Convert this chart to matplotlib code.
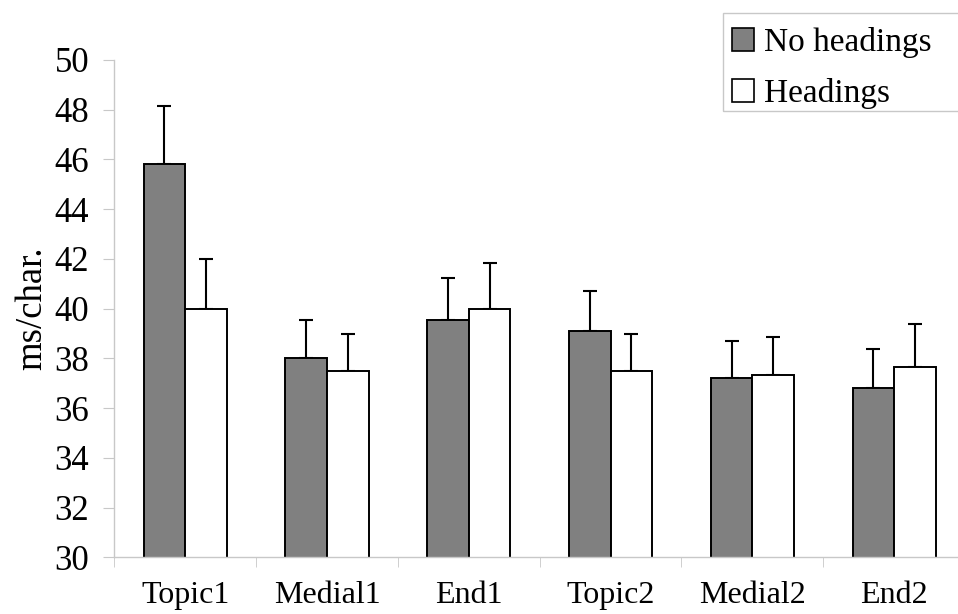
import numpy as np
import matplotlib
matplotlib.use("Agg")
from matplotlib import pyplot as plt
from matplotlib.patches import Patch, Rectangle

categories = ["Topic1", "Medial1", "End1", "Topic2", "Medial2", "End2"]
no_headings = [45.8, 38.0, 39.55, 39.1, 37.2, 36.8]
no_headings_err = [2.33, 1.55, 1.7, 1.6, 1.5, 1.57]
headings = [40.0, 37.5, 40.0, 37.5, 37.35, 37.65]
headings_err = [2.0, 1.5, 1.85, 1.5, 1.52, 1.75]

plt.rcParams['font.family'] = ['Liberation Serif', 'DejaVu Serif']

W, H = 958, 614
fig = plt.figure(figsize=(W / 100, H / 100), dpi=100)
ax = fig.add_axes([0.1193, 0.0923, 0.888, 0.81])

x = np.arange(len(categories))
w = 0.293
ax.bar(x - w / 2, no_headings, w, color='#808080', edgecolor='black', linewidth=1.4, zorder=2)
ax.bar(x + w / 2, headings, w, color='white', edgecolor='black', linewidth=1.4, zorder=2)
# upper error bars only
ax.errorbar(x - w / 2, no_headings, yerr=[np.zeros(6), no_headings_err], fmt='none',
            ecolor='black', elinewidth=1.5, capsize=5, capthick=1.5, zorder=1)
ax.errorbar(x + w / 2, headings, yerr=[np.zeros(6), headings_err], fmt='none',
            ecolor='black', elinewidth=1.5, capsize=5, capthick=1.5, zorder=1)

ax.set_xlim(-0.5, 5.5)
ax.set_ylim(30, 50)
ax.set_yticks(np.arange(30, 51, 2))
ax.set_xticks(x)
ax.set_xticklabels(categories)
ax.set_xticks(np.arange(-0.5, 6, 1), minor=True)

for s in ['top', 'right']:
    ax.spines[s].set_visible(False)
for s in ['left', 'bottom']:
    ax.spines[s].set_color('#c8c8c8')
    ax.spines[s].set_linewidth(1.0)

ax.tick_params(axis='y', direction='out', length=8, color='#c8c8c8', labelsize=25, pad=10)
ax.tick_params(axis='x', which='major', length=0, labelsize=23, pad=17)
ax.tick_params(axis='x', which='minor', direction='out', length=7, color='#c8c8c8')

ax.set_ylabel('ms/char.', fontsize=26.5, labelpad=4)

handles = [Patch(facecolor='#808080', edgecolor='black', linewidth=1.2, label='No headings'),
           Patch(facecolor='white', edgecolor='black', linewidth=1.2, label='Headings')]
leg = fig.legend(handles=handles, loc='upper left', bbox_to_anchor=(732 / W, 1 - 27 / H),
                 fontsize=24, frameon=False, handlelength=0.67,
                 handleheight=0.67, handletextpad=0.3, borderpad=0.0, labelspacing=0.6,
                 borderaxespad=0)

# legend box runs past the right edge of the figure
fig.add_artist(Rectangle((723 / W, 1 - 111 / H), 260 / W, 98 / H, transform=fig.transFigure,
                         facecolor='none', edgecolor='#c8c8c8', linewidth=1.0))

fig.savefig('out.png', dpi=100)
